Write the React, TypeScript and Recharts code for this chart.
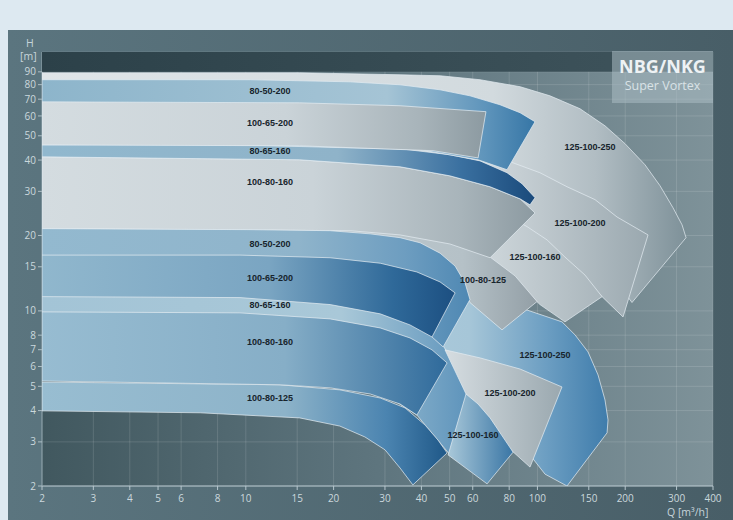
import { CartesianGrid, ComposedChart, Scatter, XAxis, YAxis } from "recharts";

// Q [m³/h], H [m] – Eckpunkte der Kennfelder (log-log)
const Q_TICKS = [2, 3, 4, 5, 6, 8, 10, 15, 20, 30, 40, 50, 60, 80, 100, 150, 200, 300, 400];
const H_TICKS = [2, 3, 4, 5, 6, 7, 8, 10, 15, 20, 30, 40, 50, 60, 70, 80, 90];

const topBand = [[2, 90], [400, 90], [400, 108], [2, 108]];

// untere Gruppe (1450 1/min)
const low_125_100_250 = [[15.3, 15.3], [33.8, 12.7], [58.7, 11.1], [87.2, 10.3], [121.4, 9.04], [134.6, 8.02], [149.1, 6.86], [161.4, 5.55], [170.5, 4.41], [174.6, 3.67], [173.3, 3.26], [126.3, 2.0], [106.2, 2.23], [94.3, 2.66], [58.7, 5.3], [33.8, 7.66], [15.3, 11.1]];
// obere Gruppe (2900 1/min)
const up_125_100_250 = [[2, 89.2], [15.3, 89.2], [33.8, 87.6], [46.4, 86.8], [63.55, 83.7], [87.2, 78.5], [110.4, 72.2], [140, 64.1], [170.5, 54.8], [199.7, 46.5], [233.8, 38.3], [263.2, 31.6], [291.7, 25.8], [313.3, 22.05], [323.3, 19.6], [211, 10.8], [164, 16.0], [119.5, 25.3], [80.5, 33.4], [50.1, 36.6], [15.3, 38.3], [2, 38.3]];
const up_125_100_200 = [[58.7, 44.0], [80.5, 39.4], [102, 35.6], [126.3, 31.3], [157.6, 27.8], [187.5, 23.7], [239.5, 20.1], [196.6, 9.46], [166.6, 11.4], [124.3, 15.7], [92.1, 21.1], [63.6, 25.3]];
const up_125_100_160 = [[58.7, 29.1], [92.1, 21.7], [107.9, 19.2], [124.3, 16.4], [145.6, 13.9], [166.6, 11.4], [124.3, 9.04], [102, 10.6], [77.4, 14.6], [58.7, 18.4]];
const up_100_80_125 = [[2, 27.8], [33.8, 24.2], [54.3, 20.1], [68.8, 16.4], [83.8, 13.8], [99.7, 10.9], [75.6, 8.4], [58.7, 10.8], [46.4, 15.7], [33.8, 18.4], [2, 19.2]];
const up_100_80_160 = [[2, 41.2], [15.3, 40.1], [33.8, 37.6], [50.1, 34.6], [68.8, 31.3], [87.2, 28.0], [98.1, 24.6], [68.8, 16.3], [50.1, 18.5], [33.8, 20.1], [22.8, 20.9], [2, 21.3]];
const up_80_65_160 = [[2, 46.0], [15.3, 46.0], [33.8, 44.4], [50.1, 42.0], [63.55, 39.7], [78.65, 35.6], [88.5, 32.2], [98.1, 28.3], [94.3, 26.5], [87.2, 28.0], [68.8, 31.3], [50.1, 34.6], [33.8, 37.6], [15.3, 40.1], [2, 41.2]];
const up_80_50_200 = [[2, 83.7], [10.34, 83.7], [22.8, 82.1], [33.8, 79.9], [46.35, 76.3], [58.7, 72.2], [74.4, 66.5], [87.2, 61.8], [98.1, 56.9], [78.65, 36.6], [62.6, 40.1], [39.6, 44.0], [2, 48.2]];
const up_100_65_200 = [[2, 68.3], [15.3, 67.7], [33.8, 65.9], [66.6, 62.4], [62.6, 40.8], [43.85, 43.6], [15.3, 45.6], [2, 46.0]];
const low_80_65_160 = [[2, 12.1], [15.3, 11.9], [33.8, 10.6], [44.55, 8.4], [47.8, 7.18], [58.7, 4.76], [50.9, 2.61], [38.6, 3.84], [15.3, 7.66], [2, 9.21]];
const low_125_100_200 = [[48.2, 6.99], [63.6, 6.49], [87.2, 5.86], [121.4, 4.97], [94.3, 2.38], [74.4, 3.05], [56.9, 4.66]];
const low_125_100_160 = [[56.9, 4.66], [62.55, 4.25], [68.8, 3.74], [82.5, 2.73], [67.2, 2.04], [49.4, 2.66]];
const low_100_80_125 = [[2, 5.2], [13.1, 5.07], [21.0, 4.84], [28.9, 4.49], [35.15, 4.1], [41.2, 3.5], [45.6, 3.05], [49.0, 2.71], [37.4, 2.02], [33.8, 2.36], [30.0, 2.79], [25.6, 3.14], [21.0, 3.47], [15.3, 3.74], [6.97, 3.92], [2, 3.99]];
const low_100_80_160 = [[2, 9.91], [9.55, 9.82], [19.45, 9.29], [28.9, 8.55], [36.56, 7.8], [43.5, 6.99], [49.0, 6.2], [38.6, 3.84], [33.8, 4.25], [26.7, 4.66], [19.45, 4.93], [13.1, 5.07], [2, 5.25]];
const low_80_50_200 = [[2, 21.3], [10.34, 21.1], [19.45, 20.9], [26.7, 20.3], [33.8, 19.6], [39.6, 18.7], [46.35, 17.0], [52.2, 15.1], [56.5, 12.9], [58.7, 11.1], [47.5, 7.18], [43.5, 7.87], [33.8, 11.1], [2, 14.6]];
const low_100_65_200 = [[2, 16.7], [9.55, 16.7], [19.45, 16.3], [28.9, 15.5], [38.6, 14.3], [46.35, 13.05], [52.2, 11.8], [43.5, 7.87], [36.56, 8.79], [28.9, 9.73], [19.45, 10.6], [9.55, 11.3], [2, 11.4]];

const labels = [
  { q: 12.1, h: 75.6, text: "80-50-200" },
  { q: 12.1, h: 56.4, text: "100-65-200" },
  { q: 12.1, h: 43.6, text: "80-65-160" },
  { q: 12.1, h: 32.7, text: "100-80-160" },
  { q: 151.5, h: 45.2, text: "125-100-250" },
  { q: 140, h: 22.5, text: "125-100-200" },
  { q: 98.1, h: 16.4, text: "125-100-160" },
  { q: 65.1, h: 13.3, text: "100-80-125" },
  { q: 12.1, h: 18.5, text: "80-50-200" },
  { q: 12.1, h: 13.5, text: "100-65-200" },
  { q: 12.1, h: 10.6, text: "80-65-160" },
  { q: 12.1, h: 7.52, text: "100-80-160" },
  { q: 12.1, h: 4.49, text: "100-80-125" },
  { q: 106.2, h: 6.67, text: "125-100-250" },
  { q: 80.5, h: 4.71, text: "125-100-200" },
  { q: 60.1, h: 3.2, text: "125-100-160" },
];

const poly = (a: number[][]) => [...a, a[0]].map(([q, h]) => ({ q, h }));

// Zeichenreihenfolge: hinten -> vorne
const regions: [number[][], string][] = [
  [low_125_100_250, "gL250"],
  [up_125_100_250, "gU250"],
  [up_125_100_200, "gU200"],
  [up_125_100_160, "gU160"],
  [up_100_80_125, "gU125"],
  [up_100_80_160, "gGray"],
  [up_80_65_160, "gBlueDark"],
  [up_80_50_200, "gBlueA"],
  [up_100_65_200, "gGray"],
  [low_80_65_160, "gLight"],
  [low_125_100_200, "gU200"],
  [low_125_100_160, "gSmall"],
  [low_100_80_125, "gL125"],
  [low_100_80_160, "gL160"],
  [low_80_50_200, "gL50"],
  [low_100_65_200, "gBlueDark2"],
];

const grads: [string, [number, string][]][] = [
  ["bg", [[0, "#41585f"], [0.5, "#5e757e"], [1, "#7e9299"]]],
  ["band", [[0, "#2c4149"], [1, "#3f545c"]]],
  ["gL250", [[0, "#b4d1e0"], [0.55, "#a6c6d8"], [0.8, "#6c9ec2"], [1, "#3f7cab"]]],
  ["gU250", [[0, "#dfe5e8"], [0.7, "#d2dade"], [0.86, "#b1bdc3"], [1, "#7e9199"]]],
  ["gU200", [[0, "#d6dde1"], [1, "#9aa8af"]]],
  ["gU160", [[0, "#d3dbdf"], [1, "#aab6bc"]]],
  ["gU125", [[0, "#d0d8dc"], [0.85, "#b5c1c7"], [1, "#939fa6"]]],
  ["gGray", [[0, "#d4dce0"], [0.55, "#cad3d8"], [0.85, "#a8b4ba"], [1, "#8c9aa1"]]],
  ["gBlueDark", [[0, "#91b8ce"], [0.6, "#8fb3c9"], [0.85, "#3a70a0"], [1, "#1a4a7b"]]],
  ["gBlueA", [[0, "#8db5cb"], [0.7, "#a5c4d5"], [0.9, "#5e94bb"], [1, "#3676a6"]]],
  ["gLight", [[0, "#a3c4d6"], [0.7, "#a9c8d8"], [1, "#5d93bb"]]],
  ["gSmall", [[0, "#a9c8d9"], [1, "#3a76a5"]]],
  ["gL125", [[0, "#98bdd1"], [0.6, "#8db3c9"], [0.85, "#4b84b0"], [1, "#1f5888"]]],
  ["gL160", [[0, "#97bcd1"], [0.6, "#86aec7"], [1, "#2f6a9b"]]],
  ["gL50", [[0, "#93b9cf"], [0.6, "#8fb4cb"], [0.85, "#6d9dc0"], [1, "#4f88b3"]]],
  ["gBlueDark2", [[0, "#90b7cd"], [0.55, "#7aa5c2"], [0.85, "#2f6999"], [1, "#1c4f81"]]],
];

const EmptyShape = () => <g />;

function LabelShape(p: { cx?: number; cy?: number; payload?: { text: string } }) {
  if (p.cx == null || p.cy == null) return <g />;
  return (
    <text x={p.cx} y={p.cy} textAnchor="middle" dominantBaseline="central"
      fontFamily="Liberation Sans" fontWeight={700} fontSize={9} fill="#17242c">
      {p.payload?.text}
    </text>
  );
}

const tickStyle = { fill: "#cbd8dd", fontSize: 10, fontFamily: "Open Sans" };
const txt = { position: "absolute" as const, color: "#c6d4da", fontFamily: "Open Sans", fontSize: 10.5, lineHeight: "10px" };

export default function App() {
  return (
    <div style={{ position: "absolute", left: 0, top: 0, width: 733, height: 520, background: "#dde9f1", overflow: "hidden" }}>
      <div style={{ position: "absolute", left: 8, top: 30, width: 725, height: 490, background: "linear-gradient(90deg, #5b757f, #485e67)" }} />
      <div style={{ position: "absolute", left: 0, top: 0 }}>
        <ComposedChart width={733} height={520} margin={{ top: 52, right: 20, bottom: 4, left: 12 }}>
          <defs>
            {grads.map(([id, stops]) => (
              <linearGradient key={id} id={id} x1="0" y1="0" x2="1" y2="0">
                {stops.map(([o, c]) => <stop key={o} offset={o} stopColor={c} />)}
              </linearGradient>
            ))}
          </defs>
          <CartesianGrid fill="url(#bg)" fillOpacity={1} stroke="#ffffff" strokeOpacity={0.13} />
          <XAxis dataKey="q" type="number" scale="log" domain={[2, 400]} allowDataOverflow
            ticks={Q_TICKS} interval={0} height={30} tick={tickStyle} tickSize={4} tickMargin={5}
            axisLine={{ stroke: "#b7c7ce" }} tickLine={{ stroke: "#b7c7ce" }} />
          <YAxis dataKey="h" type="number" scale="log" domain={[2, 108]} allowDataOverflow
            ticks={H_TICKS} interval={0} width={30} tick={tickStyle} tickSize={4}
            axisLine={{ stroke: "#8ea3ab" }} tickLine={{ stroke: "#aebfc6" }} />
          <Scatter data={poly(topBand)} shape={EmptyShape} lineJointType="linear"
            line={{ fill: "url(#band)", stroke: "none" }} isAnimationActive={false} />
          {regions.map(([pts, g], i) => (
            <Scatter key={i} data={poly(pts)} shape={EmptyShape} lineJointType="linear"
              line={{ fill: `url(#${g})`, stroke: "#e3ecf1", strokeWidth: 0.8, strokeOpacity: 0.9, strokeLinejoin: "round" }}
              isAnimationActive={false} />
          ))}
          <Scatter data={labels} shape={LabelShape} isAnimationActive={false} />
        </ComposedChart>
      </div>
      <div style={{ ...txt, left: 26, top: 38 }}>H</div>
      <div style={{ ...txt, left: 20, top: 51 }}>[m]</div>
      <div style={{ ...txt, left: 667, top: 507 }}>Q [m³/h]</div>
      <div style={{ position: "absolute", left: 612, top: 51, width: 101, height: 52, background: "rgba(170,187,194,0.55)", textAlign: "center", fontFamily: "Open Sans" }}>
        <div style={{ marginTop: 6, fontSize: 18, fontWeight: 700, color: "#eef2f4", lineHeight: "19px" }}>NBG/NKG</div>
        <div style={{ marginTop: 3, fontSize: 12.5, color: "#d9e2e6", lineHeight: "14px" }}>Super Vortex</div>
      </div>
    </div>
  );
}
